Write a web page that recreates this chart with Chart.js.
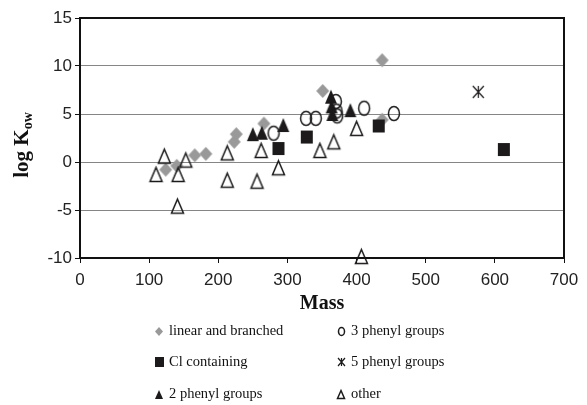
<!DOCTYPE html>
<html>
<head>
<meta charset="utf-8">
<script src="https://cdn.jsdelivr.net/npm/chart.js@4.4.1/dist/chart.umd.min.js"></script>
<style>
html, body { margin: 0; padding: 0; background: #fff; }
#wrap { width: 587px; height: 405px; }
</style>
</head>
<body>
<div id="wrap"><canvas id="KowChart" width="587" height="405"></canvas></div>
<script>
// values (mass, log Kow)
var linearMass = [124, 140, 166, 182, 223, 226, 266, 351, 437, 437];
var linearKow  = [-0.8, -0.4, 0.7, 0.85, 2.1, 2.9, 4.0, 7.4, 4.4, 10.6];

var clMass = [287, 328, 432, 613];
var clKow  = [1.4, 2.6, 3.75, 1.3];

var phenyl2Mass = [250, 263, 294, 363, 364, 365, 391];
var phenyl2Kow  = [2.9, 3.05, 3.85, 6.8, 5.8, 5.0, 5.4];

var phenyl3Mass = [280, 327, 341, 370, 371, 372, 411, 454];
var phenyl3Kow  = [3.0, 4.55, 4.55, 6.3, 5.3, 4.8, 5.6, 5.05];

var phenyl5Mass = [576];
var phenyl5Kow  = [7.3];

var otherMass = [110, 122, 142, 141, 153, 213, 213, 256, 262, 287, 347, 367, 400, 407];
var otherKow  = [-1.3, 0.6, -1.3, -4.6, 0.2, 0.95, -1.9, -2.0, 1.2, -0.6, 1.2, 2.1, 3.5, -9.85];

var seriesNames = ['linear and branched', 'Cl containing', '2 phenyl groups',
                   '3 phenyl groups', '5 phenyl groups', 'other'];
var massTicks = [0, 100, 200, 300, 400, 500, 600, 700];
var kowTicks = [-10, -5, 0, 5, 10, 15];

// build point list from two arrays
function toPoints(xs, ys) {
    var pts = [];
    for (var i = 0; i < xs.length; i++) pts.push({x: xs[i], y: ys[i]});
    return pts;
}

// draw a marker into its own little canvas
function makeMarker(kind, w, h) {
    var c = document.createElement('canvas');
    c.width = w + 4; c.height = h + 4;
    var ctx = c.getContext('2d');
    ctx.translate(2, 2);
    ctx.lineWidth = 1.5;
    ctx.strokeStyle = '#1c1a1b';
    ctx.fillStyle = '#1c1a1b';
    if (kind == 'diamond') {
        ctx.fillStyle = '#999999';
        ctx.beginPath();
        ctx.moveTo(w / 2, 0); ctx.lineTo(w, h / 2); ctx.lineTo(w / 2, h); ctx.lineTo(0, h / 2);
        ctx.closePath(); ctx.fill();
    } else if (kind == 'square') {
        ctx.fillRect(0, 0, w, h);
    } else if (kind == 'tri') {
        ctx.beginPath();
        ctx.moveTo(w / 2, 0); ctx.lineTo(w, h); ctx.lineTo(0, h);
        ctx.closePath(); ctx.fill();
    } else if (kind == 'openTri') {
        ctx.beginPath();
        ctx.moveTo(w / 2, 0.5); ctx.lineTo(w - 0.5, h - 0.5); ctx.lineTo(0.5, h - 0.5);
        ctx.closePath(); ctx.stroke();
    } else if (kind == 'ellipse') {
        ctx.beginPath();
        ctx.ellipse(w / 2, h / 2, w / 2 - 0.5, h / 2 - 0.5, 0, 0, Math.PI * 2);
        ctx.stroke();
    } else if (kind == 'star') {
        ctx.lineWidth = 1.2;
        ctx.beginPath();
        ctx.moveTo(0, 0); ctx.lineTo(w, h);
        ctx.moveTo(w, 0); ctx.lineTo(0, h);
        ctx.moveTo(w / 2, 0); ctx.lineTo(w / 2, h);
        ctx.stroke();
    }
    return c;
}

var plotMarkers = [
    makeMarker('diamond', 13, 14),
    makeMarker('square', 12, 13),
    makeMarker('tri', 12, 14),
    makeMarker('ellipse', 12, 15),
    makeMarker('star', 11, 12),
    makeMarker('openTri', 13, 15)
];
var legendMarkers = [
    makeMarker('diamond', 8, 9),
    makeMarker('square', 9, 10),
    makeMarker('tri', 8, 9),
    makeMarker('ellipse', 7, 9),
    makeMarker('star', 7, 8),
    makeMarker('openTri', 8, 9)
];

var seriesData = [
    toPoints(linearMass, linearKow),
    toPoints(clMass, clKow),
    toPoints(phenyl2Mass, phenyl2Kow),
    toPoints(phenyl3Mass, phenyl3Kow),
    toPoints(phenyl5Mass, phenyl5Kow),
    toPoints(otherMass, otherKow)
];

var datasets = [];
for (var i = 0; i < seriesData.length; i++) {
    datasets.push({
        label: seriesNames[i],
        data: seriesData[i],
        pointStyle: plotMarkers[i],
        pointRadius: 7,
        showLine: false,
        clip: false,
        order: seriesData.length - i   // first series at the bottom, like the original
    });
}

// frame, axis titles and the two column legend
var extrasPlugin = {
    id: 'extras',
    afterDraw: function (chart) {
        var ctx = chart.ctx;
        var a = chart.chartArea;
        ctx.save();
        ctx.strokeStyle = '#111';
        ctx.lineWidth = 2;
        ctx.strokeRect(a.left, a.top, a.right - a.left, a.bottom - a.top);

        // x title
        ctx.fillStyle = '#111';
        ctx.font = 'bold 20px "Liberation Serif", "Times New Roman", serif';
        ctx.textAlign = 'center';
        ctx.textBaseline = 'middle';
        ctx.fillText('Mass', (a.left + a.right) / 2, 304);

        // y title with subscript
        ctx.save();
        ctx.translate(21, 145);
        ctx.rotate(-Math.PI / 2);
        ctx.textAlign = 'left';
        ctx.textBaseline = 'alphabetic';
        var main = 'log K';
        var sub = 'ow';
        ctx.font = 'bold 21px "Liberation Serif", "Times New Roman", serif';
        var mw = ctx.measureText(main).width;
        ctx.font = 'bold 14px "Liberation Serif", "Times New Roman", serif';
        var sw = ctx.measureText(sub).width;
        var start = -(mw + sw) / 2;
        ctx.font = 'bold 21px "Liberation Serif", "Times New Roman", serif';
        ctx.fillText(main, start, 7);
        ctx.font = 'bold 14px "Liberation Serif", "Times New Roman", serif';
        ctx.fillText(sub, start + mw, 11);
        ctx.restore();

        // legend
        var colX = [159, 341];
        var rowY = [331, 362, 394];
        ctx.font = '14.5px "Liberation Serif", "Times New Roman", serif';
        ctx.textAlign = 'left';
        ctx.textBaseline = 'middle';
        for (var k = 0; k < seriesNames.length; k++) {
            var cx = colX[Math.floor(k / 3)];
            var cy = rowY[k % 3];
            var m = legendMarkers[k];
            ctx.drawImage(m, Math.round(cx - m.width / 2), Math.round(cy - m.height / 2));
            ctx.fillText(seriesNames[k], cx + 10, cy);
        }
        ctx.restore();
    }
};

new Chart(document.getElementById('KowChart'), {
    type: 'scatter',
    data: { datasets: datasets },
    plugins: [extrasPlugin],
    options: {
        responsive: false,
        animation: false,
        events: [],
        layout: { padding: { left: 0, right: 23, top: 18, bottom: 0 } },
        plugins: {
            legend: { display: false },
            tooltip: { enabled: false }
        },
        scales: {
            x: {
                type: 'linear',
                min: 0, max: 700,
                afterBuildTicks: function (scale) {
                    scale.ticks = massTicks.map(function (v) { return {value: v}; });
                },
                afterFit: function (scale) { scale.height = 147; },
                grid: { drawOnChartArea: false, color: '#111', tickLength: 5 },
                border: { color: '#111', width: 2 },
                ticks: {
                    color: '#222',
                    padding: 7,
                    maxRotation: 0,
                    font: { family: '"Liberation Sans", Arial, sans-serif', size: 17 }
                }
            },
            y: {
                type: 'linear',
                min: -10, max: 15,
                afterBuildTicks: function (scale) {
                    scale.ticks = kowTicks.map(function (v) { return {value: v}; });
                },
                afterFit: function (scale) { scale.width = 80; },
                grid: { color: '#868686', tickColor: '#111', tickLength: 5 },
                border: { color: '#111', width: 2 },
                ticks: {
                    color: '#222',
                    padding: 3,
                    font: { family: '"Liberation Sans", Arial, sans-serif', size: 17 }
                }
            }
        }
    }
});
</script>
</body>
</html>
